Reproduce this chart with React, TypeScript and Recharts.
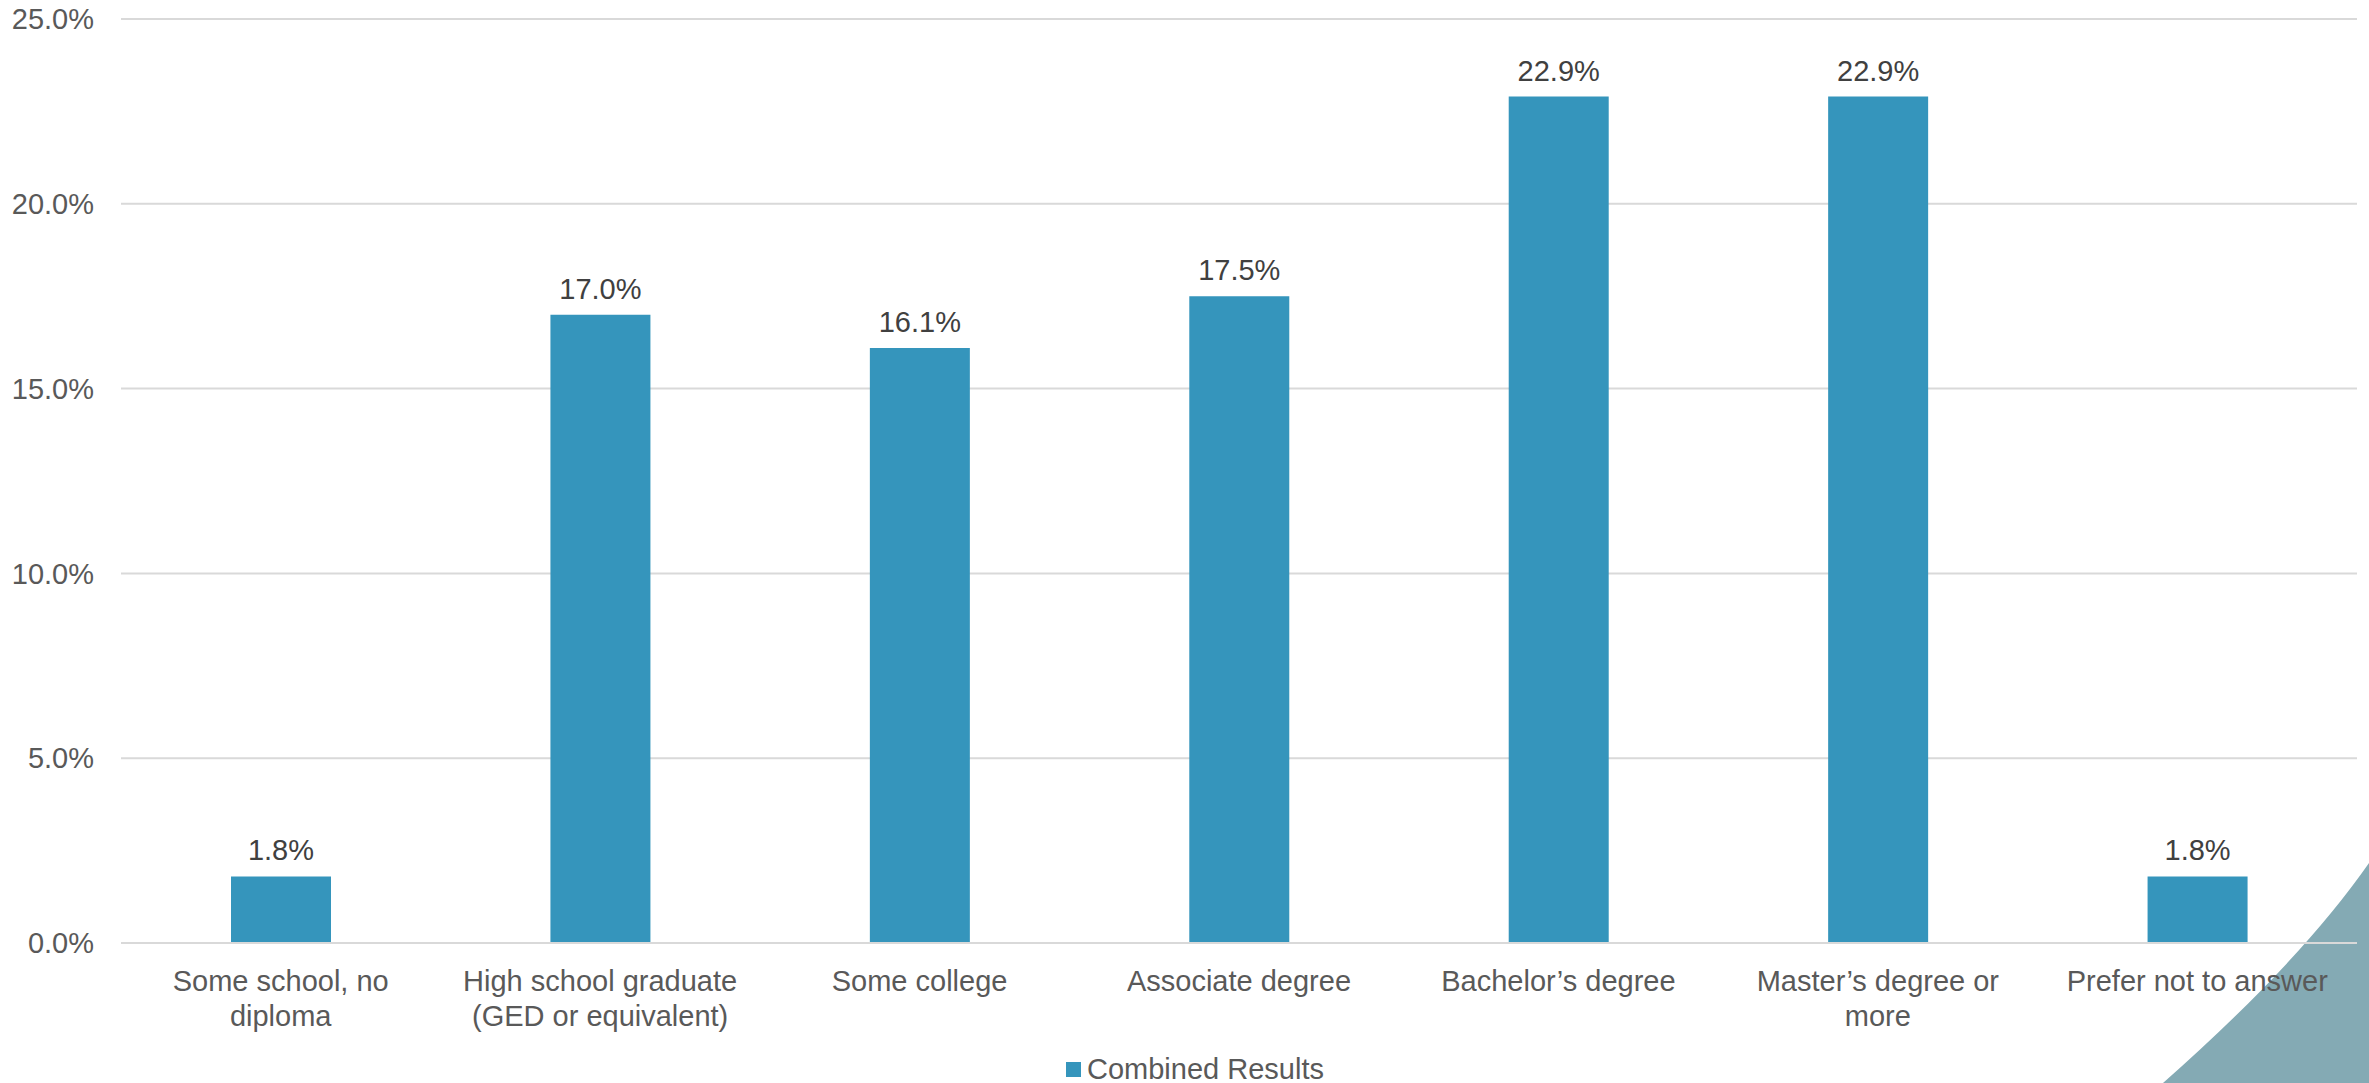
import { BarChart, Bar, XAxis, YAxis, CartesianGrid, Legend, LabelList } from 'recharts';

const categories = [
    'Some school, no\ndiploma',
    'High school graduate\n(GED or equivalent)',
    'Some college',
    'Associate degree',
    'Bachelor\u2019s degree',
    'Master\u2019s degree or\nmore',
    'Prefer not to answer'
];
const combinedResults = [1.8, 17.0, 16.1, 17.5, 22.9, 22.9, 1.8];
const yTicks = [0, 5, 10, 15, 20, 25];

const data = categories.map((name, i) => ({ name, value: combinedResults[i] }));

const FONT = '"Liberation Sans", Arial, sans-serif';
const BAR_COLOR = '#3595bc';
const AXIS_TEXT = '#595959';

const pct = (v: number) => `${v.toFixed(1)}%`;

const CategoryTick = (props: any) => {
    const { x, y, payload } = props;
    const lines = String(payload.value).split('\n');
    return (
        <text x={x} y={y} textAnchor="middle" fill={AXIS_TEXT} fontSize={29} fontFamily={FONT}>
            {lines.map((line, i) => (
                <tspan key={i} x={x} dy={i === 0 ? 48 : 35}>{line}</tspan>
            ))}
        </text>
    );
};

const LegendContent = () => (
    <div style={{ display: 'flex', justifyContent: 'center', alignItems: 'center', height: 40, paddingLeft: 33, fontFamily: FONT, fontSize: 29, color: AXIS_TEXT }}>
        <span style={{ width: 15, height: 15, background: BAR_COLOR, marginRight: 6, display: 'inline-block' }} />
        <span>Combined Results</span>
    </div>
);

const App = () => {
    return (
        <div style={{ position: 'absolute', left: 0, top: 0, width: 2369, height: 1083, background: '#fff' }}>
            {/* decorative corner shape behind the chart */}
            <svg width={2369} height={1083} style={{ position: 'absolute', left: 0, top: 0 }}>
                <path d="M 2163 1083 Q 2300 962 2369 863 L 2369 1083 Z" fill="#84aab4" />
            </svg>
            <div style={{ position: 'absolute', left: 0, top: 0 }}>
                <BarChart width={2369} height={1083} data={data} margin={{ top: 19, right: 12, bottom: 0, left: 0 }}>
                    <CartesianGrid vertical={false} stroke="#d9d9d9" strokeWidth={2} />
                    <XAxis
                        dataKey="name"
                        height={100}
                        interval={0}
                        tickLine={false}
                        tickSize={0}
                        tickMargin={0}
                        axisLine={{ stroke: '#d9d9d9', strokeWidth: 2 }}
                        tick={<CategoryTick />}
                    />
                    <YAxis
                        width={121}
                        domain={[0, 25]}
                        ticks={yTicks}
                        tickFormatter={pct}
                        axisLine={false}
                        tickLine={false}
                        tickSize={0}
                        tickMargin={27}
                        tick={{ fill: AXIS_TEXT, fontSize: 29, fontFamily: FONT }}
                    />
                    <Legend verticalAlign="bottom" content={<LegendContent />} wrapperStyle={{ bottom: -6 }} />
                    <Bar dataKey="value" name="Combined Results" fill={BAR_COLOR} barSize={100} isAnimationActive={false}>
                        <LabelList dataKey="value" position="top" offset={16} formatter={(v: any) => pct(Number(v))} fill="#404040" fontSize={29} fontFamily={FONT} />
                    </Bar>
                </BarChart>
            </div>
        </div>
    );
};

export default App;
